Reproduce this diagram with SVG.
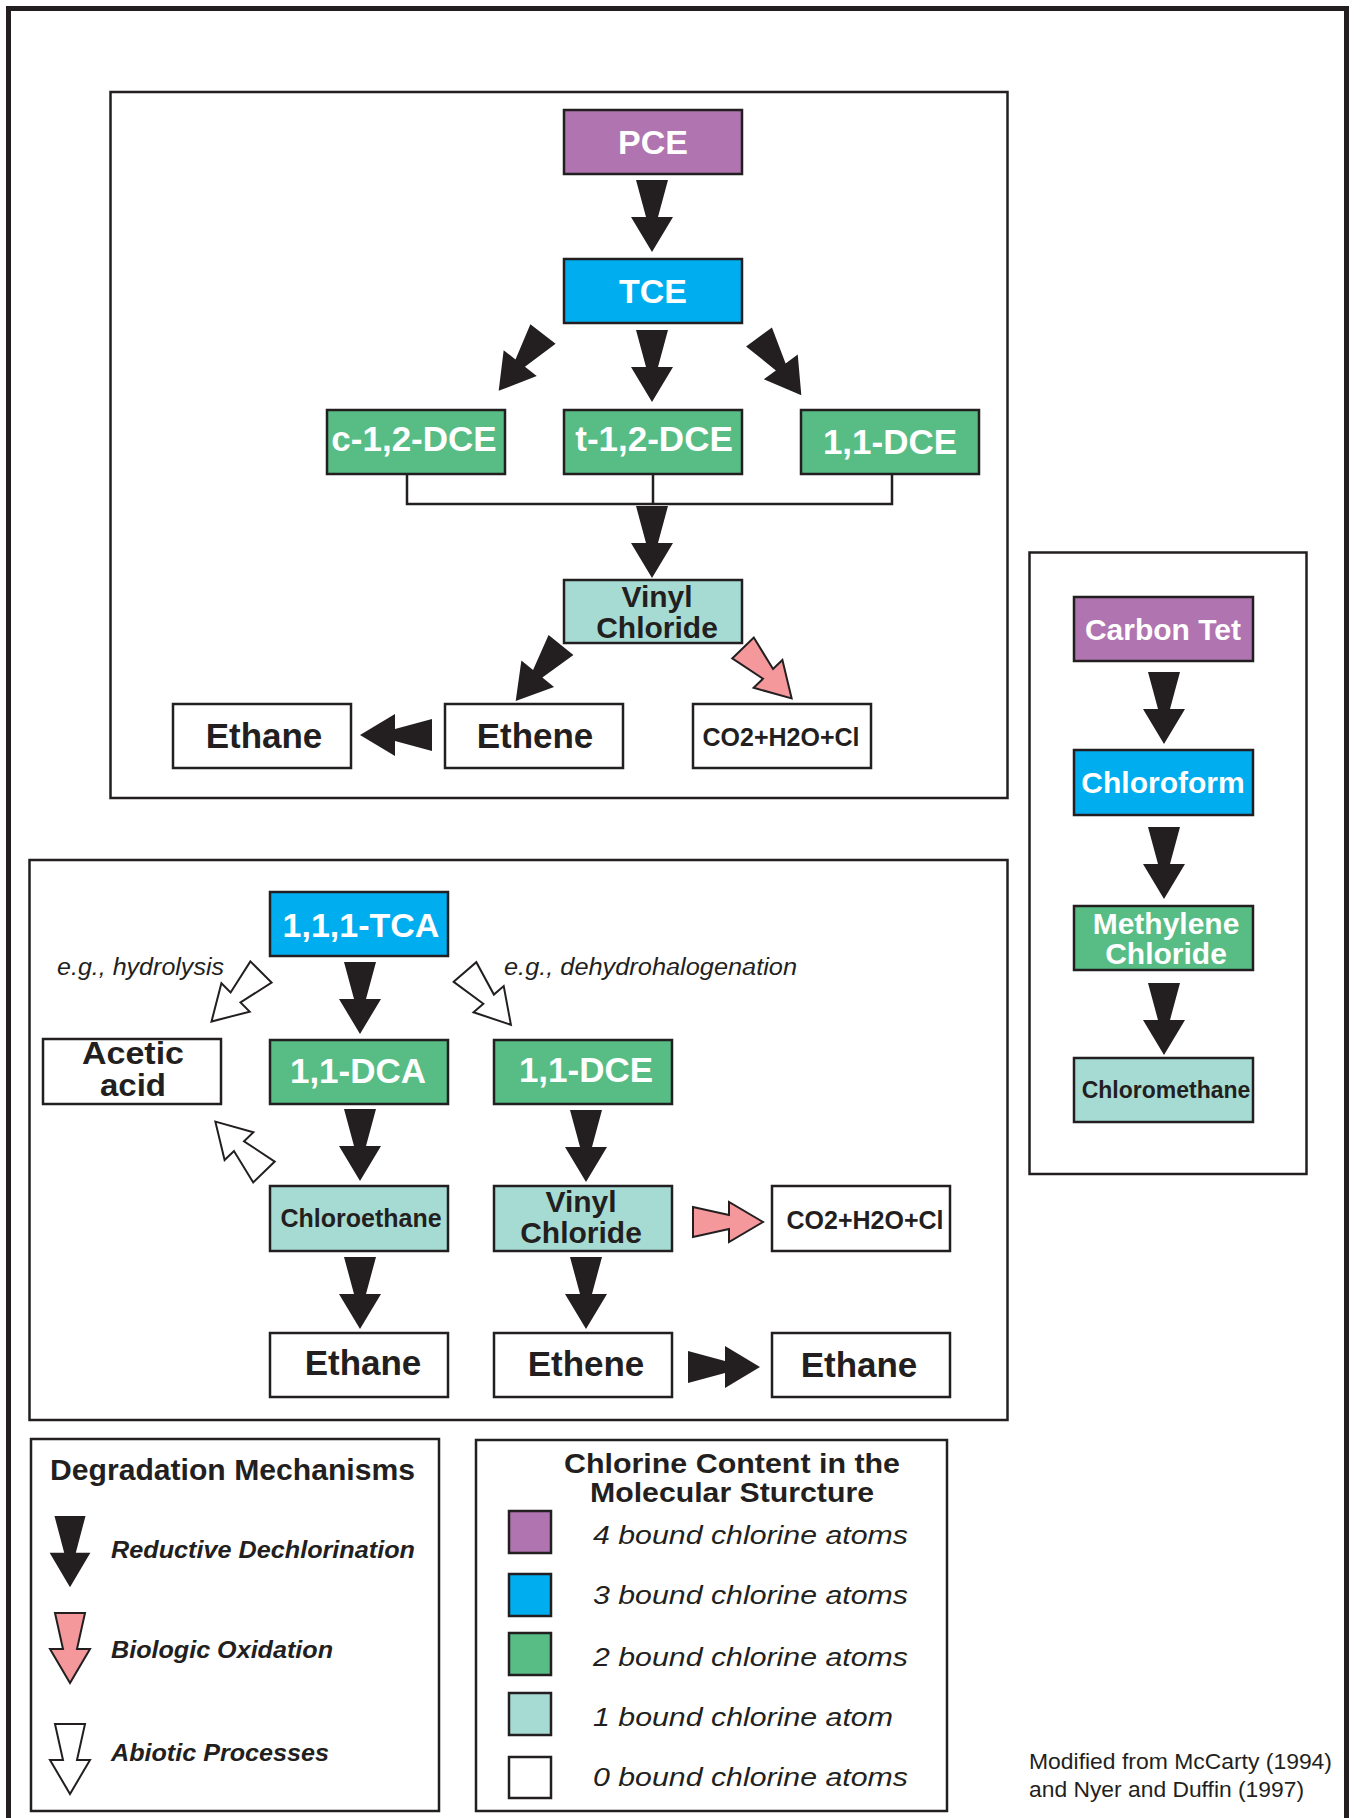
<svg xmlns="http://www.w3.org/2000/svg" xmlns:xlink="http://www.w3.org/1999/xlink" width="1356" height="1818" viewBox="0 0 1356 1818">
<style>
.frame{fill:none;stroke:#231f20;stroke-width:2.5}
.node{stroke:#231f20;stroke-width:2.5}
.p{fill:#b074b0}.b{fill:#00aeef}.g{fill:#57bd84}.t{fill:#a6dbd3}.w{fill:#ffffff}
.lw{font-family:"Liberation Sans",Arial,sans-serif;font-weight:bold;fill:#ffffff;text-anchor:middle}
.ld{font-family:"Liberation Sans",Arial,sans-serif;font-weight:bold;fill:#231f20;text-anchor:middle}
.it{font-family:"Liberation Sans",Arial,sans-serif;font-style:italic;fill:#231f20}
.bi{font-family:"Liberation Sans",Arial,sans-serif;font-style:italic;font-weight:bold;fill:#231f20}
.rg{font-family:"Liberation Sans",Arial,sans-serif;fill:#231f20}
.ab{fill:#231f20}
.ap{fill:#f4989c;stroke:#231f20;stroke-width:2}
.aw{fill:#ffffff;stroke:#231f20;stroke-width:2}
.br{fill:none;stroke:#231f20;stroke-width:2.5}
</style>
<defs>
<path id="arr" d="M-16,0 L16,0 L6,37 L21,37 L0,72 L-21,37 L-6,37 Z"/>
<path id="arr2" d="M-15,0 L15,0 L7,36 L20,36 L0,70 L-20,36 L-7,36 Z"/>
</defs>
<rect width="1356" height="1818" fill="#ffffff"/>
<rect x="8.5" y="8.5" width="1338" height="1830" fill="none" stroke="#231f20" stroke-width="5"/>

<!-- panels -->
<rect class="frame" x="110.5" y="92" width="897" height="706"/>
<rect class="frame" x="29.5" y="860" width="978" height="560"/>
<rect class="frame" x="1029.5" y="552.5" width="277" height="621.5"/>
<rect class="frame" x="31" y="1439" width="408" height="372"/>
<rect class="frame" x="476" y="1440" width="471" height="371"/>

<!-- top panel nodes -->
<g id="pce"><rect class="node p" x="564" y="110" width="178" height="64"/><text class="lw" x="653" y="154" font-size="34">PCE</text></g>
<g id="tce"><rect class="node b" x="564" y="259" width="178" height="64"/><text class="lw" x="653" y="303" font-size="34">TCE</text></g>
<g id="c12dce"><rect class="node g" x="327" y="410" width="178" height="64"/><text class="lw" x="414" y="451" font-size="35">c-1,2-DCE</text></g>
<g id="t12dce"><rect class="node g" x="564" y="410" width="178" height="64"/><text class="lw" x="654" y="451" font-size="35">t-1,2-DCE</text></g>
<g id="dce11"><rect class="node g" x="801" y="410" width="178" height="64"/><text class="lw" x="890" y="454" font-size="35">1,1-DCE</text></g>
<g id="vc1"><rect class="node t" x="564" y="580" width="178" height="63"/><text class="ld" x="657" y="607" font-size="30">Vinyl</text><text class="ld" x="657" y="638" font-size="30">Chloride</text></g>
<g id="ethane1"><rect class="node w" x="173" y="704" width="178" height="64"/><text class="ld" x="264" y="748" font-size="35">Ethane</text></g>
<g id="ethene1"><rect class="node w" x="445" y="704" width="178" height="64"/><text class="ld" x="535" y="748" font-size="35">Ethene</text></g>
<g id="co2a"><rect class="node w" x="693" y="704" width="178" height="64"/><text class="ld" x="781" y="746" font-size="25">CO2+H2O+Cl</text></g>

<!-- lower panel nodes -->
<g id="tca"><rect class="node b" x="270" y="892" width="178" height="64"/><text class="lw" x="361" y="937" font-size="34">1,1,1-TCA</text></g>
<g id="dca"><rect class="node g" x="270" y="1040" width="178" height="64"/><text class="lw" x="358" y="1083" font-size="35">1,1-DCA</text></g>
<g id="dce11b"><rect class="node g" x="494" y="1040" width="178" height="64"/><text class="lw" x="586" y="1082" font-size="35">1,1-DCE</text></g>
<g id="acetic"><rect class="node w" x="43" y="1039" width="178" height="65"/><text class="ld" x="133" y="1064" font-size="31" textLength="102" lengthAdjust="spacingAndGlyphs">Acetic</text><text class="ld" x="133" y="1096" font-size="31" textLength="66" lengthAdjust="spacingAndGlyphs">acid</text></g>
<g id="chloroethane"><rect class="node t" x="270" y="1186" width="178" height="65"/><text class="ld" x="361" y="1227" font-size="25">Chloroethane</text></g>
<g id="vc2"><rect class="node t" x="494" y="1186" width="178" height="65"/><text class="ld" x="581" y="1212" font-size="30">Vinyl</text><text class="ld" x="581" y="1243" font-size="30">Chloride</text></g>
<g id="co2b"><rect class="node w" x="772" y="1186" width="178" height="65"/><text class="ld" x="865" y="1229" font-size="25">CO2+H2O+Cl</text></g>
<g id="ethane2"><rect class="node w" x="270" y="1333" width="178" height="64"/><text class="ld" x="363" y="1375" font-size="35">Ethane</text></g>
<g id="ethene2"><rect class="node w" x="494" y="1333" width="178" height="64"/><text class="ld" x="586" y="1376" font-size="35">Ethene</text></g>
<g id="ethane3"><rect class="node w" x="772" y="1333" width="178" height="64"/><text class="ld" x="859" y="1377" font-size="35">Ethane</text></g>

<!-- right panel nodes -->
<g id="ctet"><rect class="node p" x="1074" y="597" width="179" height="64"/><text class="lw" x="1163" y="640" font-size="30">Carbon Tet</text></g>
<g id="chloroform"><rect class="node b" x="1074" y="750" width="179" height="65"/><text class="lw" x="1163" y="793" font-size="30">Chloroform</text></g>
<g id="methylene"><rect class="node g" x="1074" y="906" width="179" height="64"/><text class="lw" x="1166" y="934" font-size="30">Methylene</text><text class="lw" x="1166" y="964" font-size="30">Chloride</text></g>
<g id="chloromethane"><rect class="node t" x="1074" y="1058" width="179" height="64"/><text class="ld" x="1166" y="1098" font-size="23">Chloromethane</text></g>

<!-- labels -->
<text class="it" x="57" y="975" font-size="23" textLength="167" lengthAdjust="spacingAndGlyphs">e.g., hydrolysis</text>
<text class="it" x="504" y="975" font-size="23" textLength="293" lengthAdjust="spacingAndGlyphs">e.g., dehydrohalogenation</text>

<!-- connectors -->
<g id="connectors">
<path class="br" d="M407,474 V504 H892 V474 M653,474 V504"/>
<use xlink:href="#arr" href="#arr" class="ab" transform="translate(652,180)"/>
<use xlink:href="#arr" href="#arr" class="ab" transform="translate(652,330)"/>
<use xlink:href="#arr" href="#arr" class="ab" transform="translate(543,334) rotate(38)"/>
<use xlink:href="#arr" href="#arr" class="ab" transform="translate(759,337) rotate(-36)"/>
<use xlink:href="#arr" href="#arr" class="ab" transform="translate(652,506)"/>
<use xlink:href="#arr" href="#arr" class="ab" transform="translate(561,645) rotate(39)"/>
<use xlink:href="#arr2" href="#arr2" class="ap" transform="translate(743,648) rotate(-44)"/>
<use xlink:href="#arr" href="#arr" class="ab" transform="translate(432,735) rotate(90)"/>

<use xlink:href="#arr" href="#arr" class="ab" transform="translate(360,962)"/>
<use xlink:href="#arr" href="#arr" class="ab" transform="translate(360,1109)"/>
<use xlink:href="#arr" href="#arr" class="ab" transform="translate(360,1257)"/>
<use xlink:href="#arr" href="#arr" class="ab" transform="translate(586,1110)"/>
<use xlink:href="#arr" href="#arr" class="ab" transform="translate(586,1257)"/>
<use xlink:href="#arr" href="#arr" class="ab" transform="translate(688,1367) rotate(-90)"/>
<use xlink:href="#arr2" href="#arr2" class="ap" transform="translate(693,1222) rotate(-90)"/>
<use xlink:href="#arr2" href="#arr2" class="aw" transform="translate(261,972) rotate(45)"/>
<use xlink:href="#arr2" href="#arr2" class="aw" transform="translate(465,972) rotate(-41)"/>
<use xlink:href="#arr2" href="#arr2" class="aw" transform="translate(264,1172) rotate(136)"/>

<use xlink:href="#arr" href="#arr" class="ab" transform="translate(1164,672)"/>
<use xlink:href="#arr" href="#arr" class="ab" transform="translate(1164,827)"/>
<use xlink:href="#arr" href="#arr" class="ab" transform="translate(1164,983)"/>
</g>

<!-- legend: mechanisms -->
<g id="legend-mech">
<text class="ld" x="232.5" y="1480" font-size="29" textLength="365" lengthAdjust="spacingAndGlyphs">Degradation Mechanisms</text>
<use xlink:href="#arr" href="#arr" class="ab" transform="translate(70,1516) scale(0.97,0.99)"/>
<use xlink:href="#arr2" href="#arr2" class="ap" transform="translate(70,1613)"/>
<use xlink:href="#arr2" href="#arr2" class="aw" transform="translate(70,1724)"/>
<text class="bi" x="111" y="1558" font-size="23" textLength="304" lengthAdjust="spacingAndGlyphs">Reductive Dechlorination</text>
<text class="bi" x="111" y="1658" font-size="23" textLength="222" lengthAdjust="spacingAndGlyphs">Biologic Oxidation</text>
<text class="bi" x="111" y="1761" font-size="23" textLength="218" lengthAdjust="spacingAndGlyphs">Abiotic Processes</text>
</g>

<!-- legend: chlorine -->
<g id="legend-cl">
<text class="ld" x="732" y="1473" font-size="28" textLength="336" lengthAdjust="spacingAndGlyphs">Chlorine Content in the</text>
<text class="ld" x="732" y="1502" font-size="28" textLength="284" lengthAdjust="spacingAndGlyphs">Molecular Sturcture</text>
<rect class="node p" x="509" y="1511" width="42" height="42"/>
<rect class="node b" x="509" y="1574" width="42" height="42"/>
<rect class="node g" x="509" y="1633" width="42" height="42"/>
<rect class="node t" x="509" y="1693" width="42" height="42"/>
<rect class="node w" x="509" y="1757" width="42" height="41"/>
<text class="it" x="593" y="1544" font-size="26" textLength="315" lengthAdjust="spacingAndGlyphs">4 bound chlorine atoms</text>
<text class="it" x="593" y="1604" font-size="26" textLength="315" lengthAdjust="spacingAndGlyphs">3 bound chlorine atoms</text>
<text class="it" x="593" y="1666" font-size="26" textLength="315" lengthAdjust="spacingAndGlyphs">2 bound chlorine atoms</text>
<text class="it" x="593" y="1726" font-size="26" textLength="300" lengthAdjust="spacingAndGlyphs">1 bound chlorine atom</text>
<text class="it" x="593" y="1786" font-size="26" textLength="315" lengthAdjust="spacingAndGlyphs">0 bound chlorine atoms</text>
</g>

<text class="rg" x="1029" y="1769" font-size="22" textLength="303" lengthAdjust="spacingAndGlyphs">Modified from McCarty (1994)</text>
<text class="rg" x="1029" y="1797" font-size="22" textLength="275" lengthAdjust="spacingAndGlyphs">and Nyer and Duffin (1997)</text>
</svg>
